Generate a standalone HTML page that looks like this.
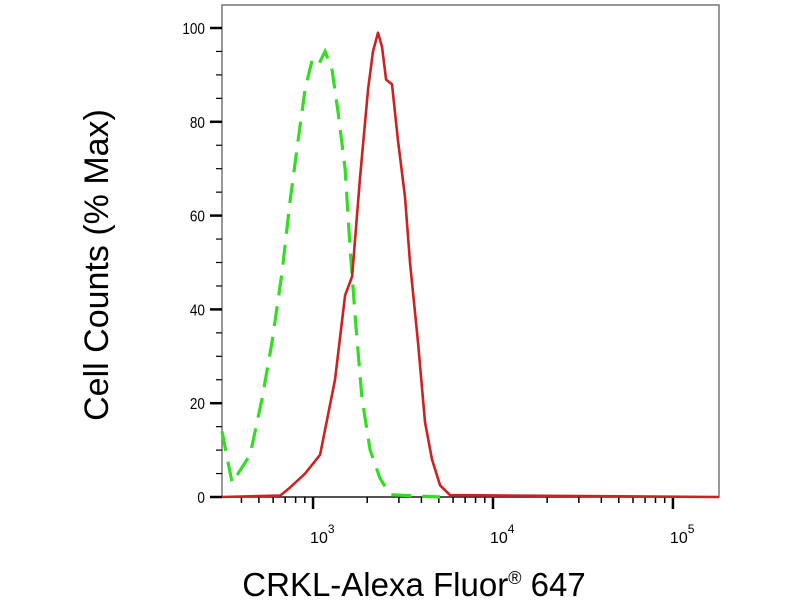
<!DOCTYPE html>
<html><head><meta charset="utf-8"><style>
html,body{margin:0;padding:0;background:#fff;}
svg{display:block;font-family:"Liberation Sans",Arial,sans-serif;}
</style></head><body>
<svg id="chart" width="800" height="600" viewBox="0 0 800 600" xmlns="http://www.w3.org/2000/svg">
<rect x="0" y="0" width="800" height="600" fill="#fff"/>
<g id="plot"></g>
<text x="108" y="265" font-size="34" text-anchor="middle" transform="rotate(-90 108 265)">Cell Counts (% Max)</text>
<text x="414" y="596" font-size="33" text-anchor="middle">CRKL-Alexa Fluor<tspan font-size="18" dy="-12">®</tspan><tspan dy="12"> 647</tspan></text>
</svg>
<script>
// data (log10 fluorescence intensity, % of max)
const redLog = [2.494,2.817,2.872,2.956,3.039,3.122,3.178,3.217,3.261,3.306,3.333,3.361,3.383,3.406,3.439,3.472,3.511,3.539,3.583,3.622,3.661,3.706,3.761,5.256];
const redPct = [0,0.3,2,5,9,25,43,47,68,87,95,99,96,89,88,76,64,50,33,16,8,2.5,0.4,0];
const greenLog = [2.494,2.55,2.65,2.717,2.772,2.828,2.872,2.917,2.956,2.994,3.028,3.067,3.106,3.139,3.178,3.206,3.239,3.272,3.317,3.372,3.428,3.706];
const greenPct = [14,3,9,21,33,48,63,76,87,93,92,95,91,82,70,53,36,21,10,4,0.5,0];
const yTicks = [0,20,40,60,80,100];
const xDecades = [3,4,5];

const L=222,R=719,T=5,B=497;
const xMin=2.494,xMax=5.256;
const xs=v=>L+(v-xMin)/(xMax-xMin)*(R-L);
const ys=v=>B-v*4.69;
const NS="http://www.w3.org/2000/svg";
const plot=document.getElementById('plot');
function mk(tag,attrs){const e=document.createElementNS(NS,tag);for(const k in attrs)e.setAttribute(k,attrs[k]);plot.appendChild(e);return e;}

const frame=mk('rect',{x:L,y:T,width:R-L,height:B-T,fill:'none',stroke:'#777','stroke-width':1.5});


const xaxis=mk('line',{x1:L,x2:R,y1:B,y2:B,stroke:'#333','stroke-width':1.5});



// y ticks
for(let v=0;v<=100;v+=5){
  const major=v%20===0;
  const t=mk('line',{x1:major?L-12:L-6,x2:L,y1:ys(v),y2:ys(v),stroke:'#000','stroke-width':major?2.5:1.2});
  
  
}
yTicks.forEach(v=>{
  const t=mk('text',{x:L-17,y:ys(v)+6,'font-size':16,'text-anchor':'end'});
  t.setAttribute('transform',`translate(${(L-17)*0.15},0) scale(0.85,1)`);
  t.textContent=v;
  
  
});
// x ticks
for(let d=2;d<=5;d++){
  for(let m=1;m<=9;m++){
    const lv=d+Math.log10(m);
    if(lv<xMin||lv>xMax)continue;
    const major=m===1;
    const t=mk('line',{x1:xs(lv),x2:xs(lv),y1:B,y2:B+(major?12:6),stroke:'#000','stroke-width':major?2.5:1.5});
    
    
  }
}
xDecades.forEach(d=>{
  const t=mk('text',{x:xs(d)-3,y:543,'font-size':16});
  t.innerHTML='10<tspan font-size="12" dy="-10">'+d+'</tspan>';
  
  
});

function pathOf(lx,py){return lx.map((v,i)=>(i?'L':'M')+xs(v).toFixed(1)+','+ys(py[i]).toFixed(1)).join(' ');}
const g=mk('path',{d:pathOf(greenLog,greenPct),fill:'none',stroke:'#33dd22','stroke-width':3.2,'stroke-dasharray':'20,11'});


const r=mk('path',{d:pathOf(redLog,redPct),fill:'none',stroke:'#cc2222','stroke-width':2.6,'stroke-linejoin':'round'});


</script>
</body></html>
